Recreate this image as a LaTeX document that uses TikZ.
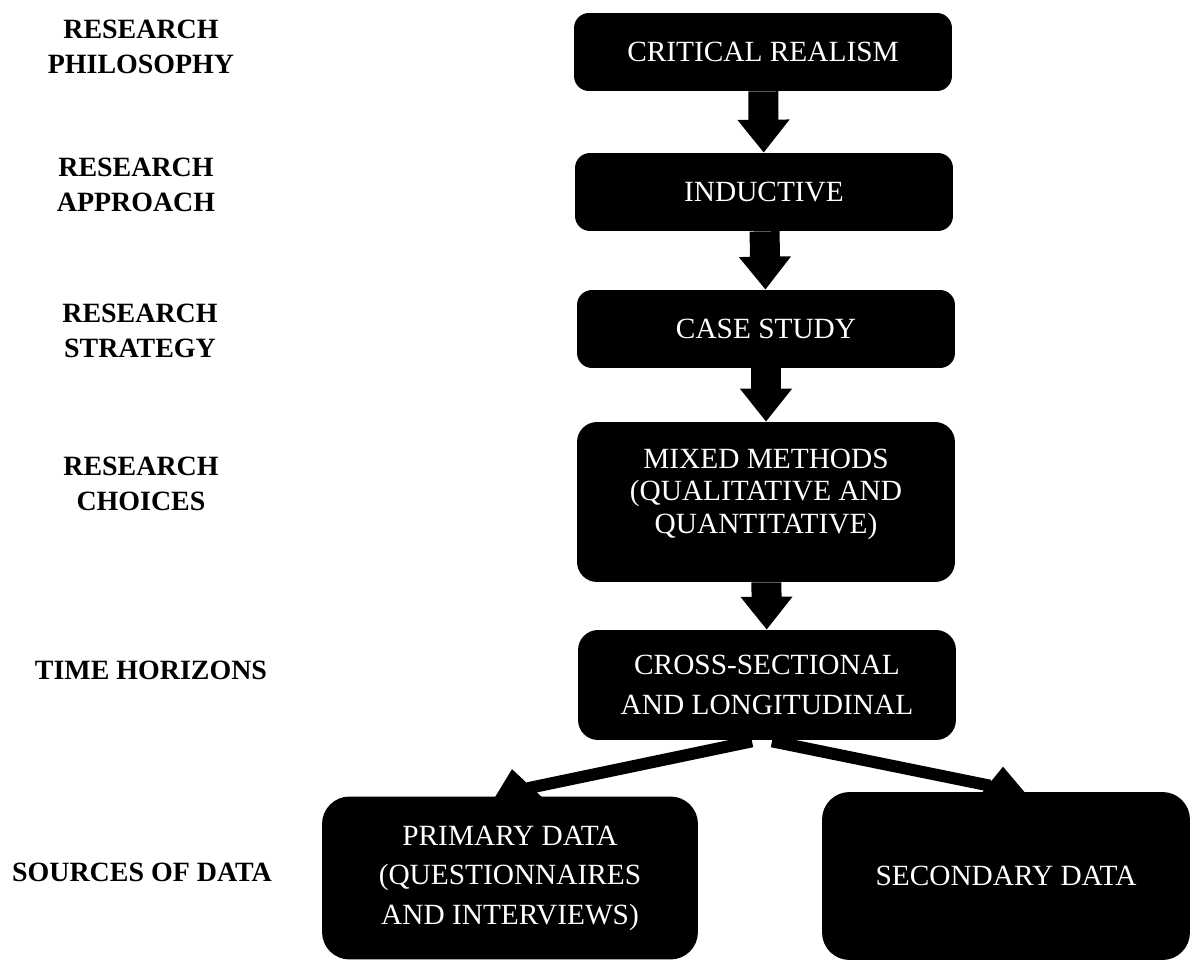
\documentclass[tikz,border=0pt]{standalone}
\usepackage{fontspec}
\setmainfont{Liberation Serif}
\usetikzlibrary{arrows.meta,calc}
\begin{document}
\begin{tikzpicture}[x=0.02cm, y=-0.02cm,
  box/.style = {fill=black, text=white, rounded corners=0.3cm, minimum width=7.56cm, minimum height=1.56cm, align=center, font=\fontsize{16.7}{18.5}\selectfont},
  base/.style = {box, rounded corners=0.55cm, font=\fontsize{16.7}{22.5}\selectfont},
  tag/.style = {align=center, font=\fontsize{15.9}{19.8}\selectfont\bfseries},
  down/.style = {line width=0.6cm, -{Triangle[length=0.66cm, width=1cm]}},
  fork/.style = {line width=0.24cm}]
  \useasboundingbox (0,0) rectangle (1194,963);
  \node[box] (realism) at (763,52) {CRITICAL REALISM};
  \node[box] (inductive) at (764,192) {INDUCTIVE};
  \node[box] (case) at (766,329) {CASE STUDY};
  \node[box, minimum height=3.2cm, rounded corners=0.4cm] (mixed) at (766,502) {MIXED METHODS\\(QUALITATIVE AND\\QUANTITATIVE)\\[-6pt]\mbox{}};
  \node[box, minimum height=2.2cm, rounded corners=0.4cm, font=\fontsize{16.7}{22.7}\selectfont] (time) at (767,685) {CROSS-SECTIONAL\\AND LONGITUDINAL};
  \node[base, minimum width=7.52cm, minimum height=3.26cm] (primary) at (510,878) {PRIMARY DATA\\(QUESTIONNAIRES\\AND INTERVIEWS)};
  \node[base, minimum width=7.36cm, minimum height=3.36cm] (secondary) at (1006,876) {SECONDARY DATA};

  \node[tag] (philosophy) at (141,47) {RESEARCH\\PHILOSOPHY};
  \node[tag] (approach) at (136,185) {RESEARCH\\APPROACH};
  \node[tag] (strategy) at (140,331) {RESEARCH\\STRATEGY};
  \node[tag] (choices) at (141,484) {RESEARCH\\CHOICES};
  \node[tag] (horizons) at (151,670) {TIME HORIZONS};
  \node[tag] (sources) at (142,872) {SOURCES OF DATA};

  \draw[down] (realism) -- (inductive);
  \draw[down] (inductive) -- (case);
  \draw[down] (case) -- (mixed);
  \draw[down] (mixed) -- (time);

  \draw[fork] ($(time.south)+(-15,1)$) -- ($(primary.north)+(18,-8)$);
  \fill ($(primary.north)+(2,-27)$) -- ($(primary.north)+(-15,1)$) -- ($(primary.north)+(32,1)$) -- cycle;
  \draw[fork] ($(time.south)+(5,1)$) -- ($(secondary.north)+(-16,-6)$);
  \fill ($(secondary.north)+(-3,-25)$) -- ($(secondary.north)+(-24,1)$) -- ($(secondary.north)+(19,1)$) -- cycle;
\end{tikzpicture}
\end{document}
